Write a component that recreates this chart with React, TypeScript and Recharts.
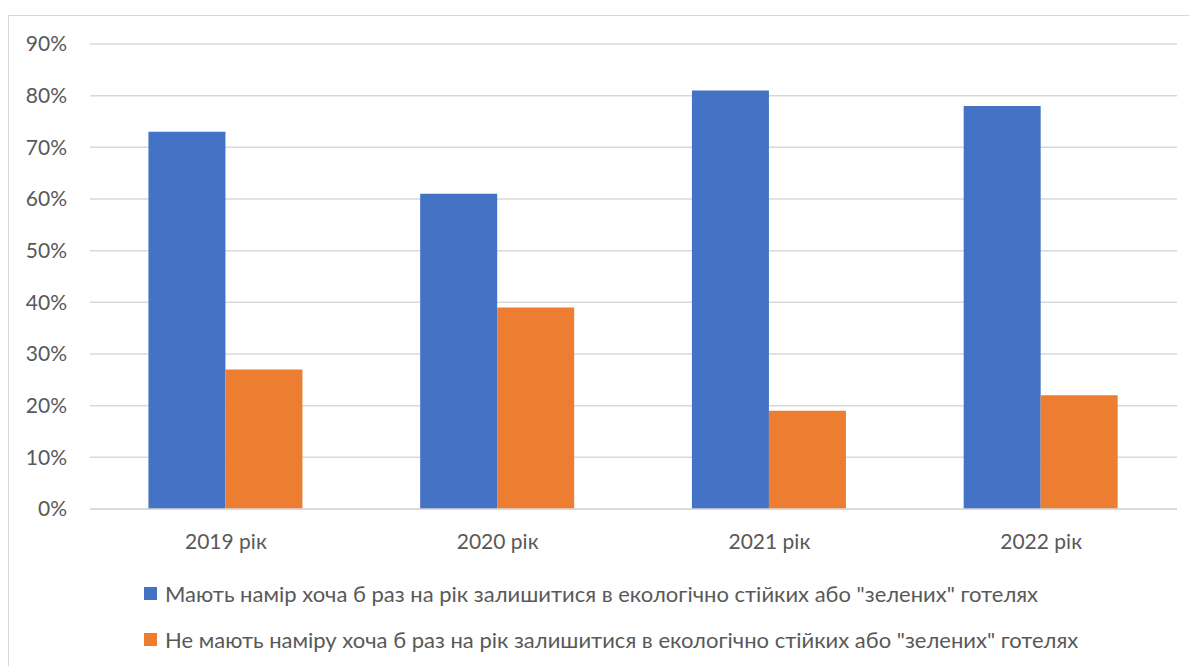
import React from "react";
import { BarChart, Bar, XAxis, YAxis, CartesianGrid } from "recharts";

const categories = ["2019 рік", "2020 рік", "2021 рік", "2022 рік"];
const intendValues = [73, 61, 81, 78];
const notIntendValues = [27, 39, 19, 22];
const yTicks = [0, 10, 20, 30, 40, 50, 60, 70, 80, 90];
const seriesNames = [
  'Мають намір хоча б раз на рік залишитися в екологічно стійких або "зелених" готелях',
  'Не мають наміру хоча б раз на рік залишитися в екологічно стійких або "зелених" готелях',
];
const seriesColors = ["#4472C4", "#ED7D31"];

const data = categories.map((c, i) => ({
  name: c,
  intend: intendValues[i],
  notIntend: notIntendValues[i],
}));

const FONT = "Lato, 'Open Sans', sans-serif";
const TEXT = "#595959";

const LegendBlock = () => (
  <div style={{ fontFamily: FONT, fontSize: 22, color: TEXT }}>
    {seriesNames.map((n, i) => (
      <div key={n} style={{ display: "flex", alignItems: "center", height: 46 }}>
        <span
          style={{
            display: "inline-block",
            width: 13,
            height: 13,
            background: seriesColors[i],
            marginRight: 8,
          }}
        />
        <span>{n}</span>
      </div>
    ))}
  </div>
);

export default function App() {
  return (
    <div style={{ position: "relative", width: 1189, height: 658, fontFamily: FONT }}>
      <div
        style={{
          position: "absolute",
          left: 0,
          top: 7,
          width: 1200,
          height: 700,
          border: "1px solid #d9d9d9",
          boxSizing: "border-box",
        }}
      />
      <div style={{ position: "absolute", left: 0, top: 0 }}>
        <BarChart
          width={1189}
          height={658}
          data={data}
          margin={{ top: 36, right: 20, bottom: 97, left: 0 }}
          barCategoryGap="21.5%"
          barGap={0}
        >
          <CartesianGrid vertical={false} stroke="#d9d9d9" strokeWidth={1.5} />
          <XAxis
            dataKey="name"
            height={60}
            tickLine={false}
            axisLine={{ stroke: "#d9d9d9", strokeWidth: 1.5 }}
            tickSize={0}
            tickMargin={25}
            tick={{ fill: TEXT, fontSize: 21, fontFamily: FONT }}
          />
          <YAxis
            width={82}
            domain={[0, 90]}
            ticks={yTicks}
            interval={0}
            axisLine={false}
            tickLine={false}
            tickSize={0}
            tickMargin={23}
            tickFormatter={(v: number) => `${v}%`}
            tick={{ fill: TEXT, fontSize: 21, fontFamily: FONT }}
          />
          <Bar dataKey="intend" name={seriesNames[0]} fill={seriesColors[0]} isAnimationActive={false} />
          <Bar dataKey="notIntend" name={seriesNames[1]} fill={seriesColors[1]} isAnimationActive={false} />
        </BarChart>
      </div>
      <div style={{ position: "absolute", left: 136, top: 562 }}>
        <LegendBlock />
      </div>
    </div>
  );
}
